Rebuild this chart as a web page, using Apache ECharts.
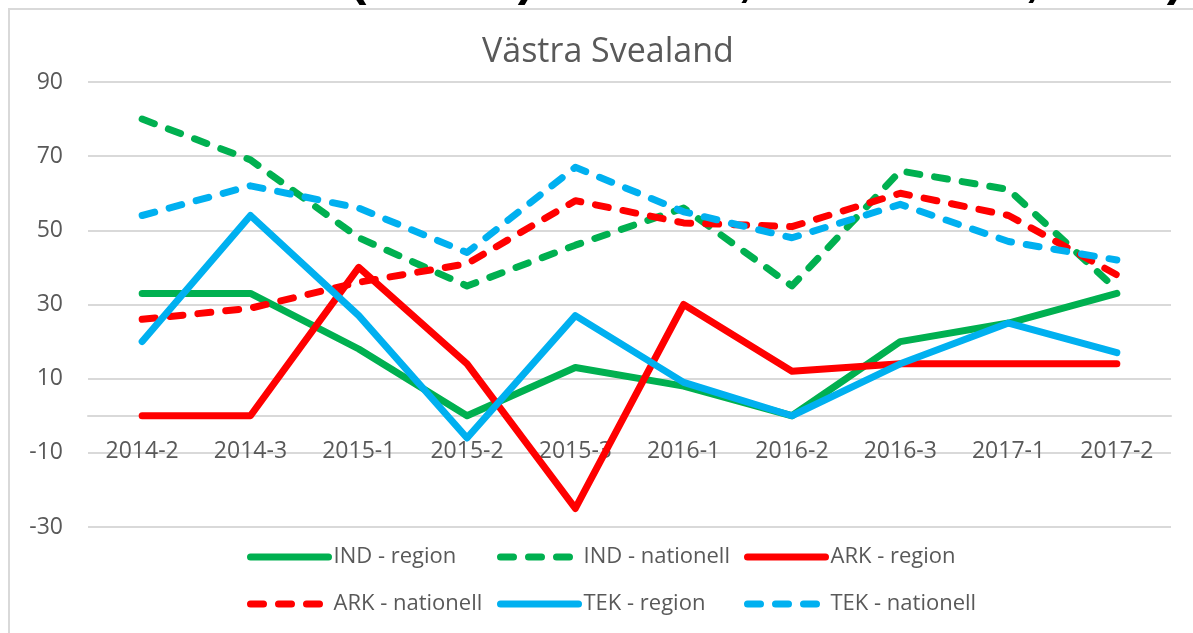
<!DOCTYPE html>
<html>
<head>
<meta charset="utf-8">
<title>Västra Svealand</title>
<script src="https://cdn.jsdelivr.net/npm/echarts@6/dist/echarts.min.js"></script>
<style>
  html, body { margin: 0; padding: 0; background: #fff; }
  #chart { width: 1193px; height: 633px; }
</style>
</head>
<body>
<div id="chart"></div>
<script>
// kategorier (x-axel)
const periods = ['2014-2', '2014-3', '2015-1', '2015-2', '2015-3', '2016-1', '2016-2', '2016-3', '2017-1', '2017-2']

// serier
const indRegion = [33, 33, 18, 0, 13, 8, 0, 20, 25, 33]
const indNationell = [80, 69, 48, 35, 46, 56, 35, 66, 61, 34]
const arkRegion = [0, 0, 40, 14, -25, 30, 12, 14, 14, 14]
const arkNationell = [26, 29, 36, 41, 58, 52, 51, 60, 54, 38]
const tekRegion = [20, 54, 27, -6, 27, 9, 0, 14, 25, 17]
const tekNationell = [54, 62, 56, 44, 67, 55, 48, 57, 47, 42]

// y-axel
const yMin = -30
const yMax = 90
const yStep = 20

const GREEN = '#00B050'
const RED = '#FF0000'
const BLUE = '#00B0F0'
const GRAY_TEXT = '#595959'
const GRID_LINE = '#d9d9d9'
const FONT = 'Open Sans'
const LINE_W = 7

// plotytan
const GRID_TOP = 82
const GRID_BOTTOM = 106
const PLOT_H = 633 - GRID_TOP - GRID_BOTTOM

const makeSeries = (name, data, color, dashed) => ({
  name: name,
  type: 'line',
  data: data,
  symbol: 'none',
  lineStyle: {
    width: LINE_W,
    color: color,
    type: dashed ? [13, 15] : 'solid',
    cap: 'round',
    join: 'round'
  },
  itemStyle: { color: color }
})

const legendCol = (left, names) => ({
  orient: 'vertical',
  left: left,
  top: 541,
  itemWidth: 78,
  itemHeight: 14,
  itemGap: 25,
  data: names,
  itemStyle: { opacity: 0 }, // bara linjen, ingen symbol
  lineStyle: { width: LINE_W, cap: 'round' },
  textStyle: { color: GRAY_TEXT, fontSize: 22, fontFamily: FONT }
})

// bara nederkanten av en rubrik ovanför syns i bilden
const cutText = (x, ch) => ({
  type: 'text',
  x: x,
  y: -19,
  silent: true,
  style: {
    text: ch,
    fill: '#000',
    font: 'bold 50px "Liberation Sans"',
    align: 'center',
    verticalAlign: 'middle'
  }
})

const chart = echarts.init(document.getElementById('chart'))

const option = {
  animation: false,
  backgroundColor: '#fff',
  title: {
    text: 'Västra Svealand',
    left: 477,
    top: 30,
    textStyle: { color: GRAY_TEXT, fontSize: 34, fontWeight: 'normal', fontFamily: FONT }
  },
  graphic: [
    {
      type: 'rect',
      shape: { x: 9, y: 9, width: 1220, height: 700 },
      style: { fill: null, stroke: GRID_LINE, lineWidth: 2 },
      silent: true
    },
    cutText(358, '('),
    cutText(526, ')'),
    cutText(745, ','),
    cutText(1032, ','),
    cutText(1175, ')')
  ],
  legend: [
    legendCol(242, ['IND - region', 'ARK - nationell']),
    legendCol(492, ['IND - nationell', 'TEK - region']),
    legendCol(739, ['ARK - region', 'TEK - nationell'])
  ],
  grid: {
    left: 88,
    right: 22,
    top: GRID_TOP,
    bottom: GRID_BOTTOM,
    containLabel: false
  },
  xAxis: {
    type: 'category',
    data: periods,
    boundaryGap: true,
    // axeln (med etiketter) ligger vid 0, inte längst ner
    offset: -PLOT_H * (0 - yMin) / (yMax - yMin),
    axisLine: { onZero: false, lineStyle: { color: GRID_LINE, width: 2 } },
    axisTick: { show: false },
    axisLabel: {
      interval: 0,
      margin: 24,
      color: GRAY_TEXT,
      fontSize: 23,
      fontFamily: FONT
    }
  },
  yAxis: {
    type: 'value',
    min: yMin,
    max: yMax,
    interval: yStep,
    axisLine: { show: false },
    axisTick: { show: false },
    axisLabel: { margin: 25, color: GRAY_TEXT, fontSize: 23, fontFamily: FONT },
    splitLine: { lineStyle: { color: GRID_LINE, width: 2 } }
  },
  series: [
    makeSeries('IND - region', indRegion, GREEN, false),
    makeSeries('IND - nationell', indNationell, GREEN, true),
    makeSeries('ARK - region', arkRegion, RED, false),
    makeSeries('ARK - nationell', arkNationell, RED, true),
    makeSeries('TEK - region', tekRegion, BLUE, false),
    makeSeries('TEK - nationell', tekNationell, BLUE, true)
  ]
}

chart.setOption(option)
</script>
</body>
</html>
